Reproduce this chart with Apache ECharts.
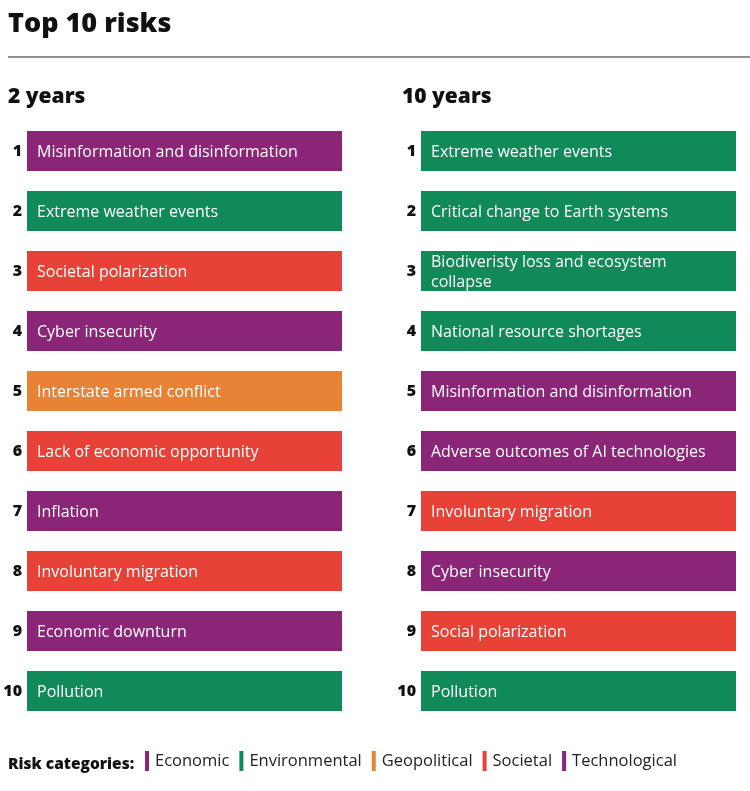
<!DOCTYPE html>
<html><head><meta charset="utf-8">
<script src="https://cdn.jsdelivr.net/npm/echarts@6/dist/echarts.min.js"></script>
<style>html,body{margin:0;padding:0;background:#fff}#c{width:750px;height:791px}</style>
</head><body><div id="c"></div>
<script>
const ranks = ['1','2','3','4','5','6','7','8','9','10'];
const risks2y = ['Misinformation and disinformation','Extreme weather events','Societal polarization','Cyber insecurity','Interstate armed conflict','Lack of economic opportunity','Inflation','Involuntary migration','Economic downturn','Pollution'];
const cats2y = ['Technological','Environmental','Societal','Technological','Geopolitical','Societal','Economic','Societal','Economic','Environmental'];
const risks10y = ['Extreme weather events','Critical change to Earth systems','Biodiveristy loss and ecosystem collapse','National resource shortages','Misinformation and disinformation','Adverse outcomes of AI technologies','Involuntary migration','Cyber insecurity','Social polarization','Pollution'];
const cats10y = ['Environmental','Environmental','Environmental','Environmental','Technological','Technological','Societal','Technological','Societal','Environmental'];
const barValue = 1; // every risk drawn with the same bar length
const categories = ['Economic','Environmental','Geopolitical','Societal','Technological'];
const catColors = {Economic:'#8B2577',Environmental:'#0F8A58',Geopolitical:'#E88236',Societal:'#E84137',Technological:'#8B2577'};

const FONT = 'Open Sans';
function makeSeries(risks, cats, gi){
  return categories.map(c => ({
    type:'bar', name:c, xAxisIndex:gi, yAxisIndex:gi,
    barWidth:40, barGap:'-100%', silent:true,
    itemStyle:{color:catColors[c]},
    label:{show:true, position:'insideLeft', distance:10, offset:[0,1], color:'#fff',
      fontFamily:FONT, fontSize:16, lineHeight:20, width:290, overflow:'break',
      formatter:p=>p.data.risk},
    data: risks.map((r,i)=> cats[i]===c ? {value:barValue, risk:r} : '-')
  }));
}
function yAx(gi){
  return {type:'category', gridIndex:gi, data:ranks, inverse:true,
    axisLine:{show:false}, axisTick:{show:false},
    axisLabel:{margin:5, color:'#111', fontFamily:FONT, fontWeight:800, fontSize:16}};
}
function xAx(gi){
  return {type:'value', gridIndex:gi, min:0, max:1, show:false, splitLine:{show:false}};
}
const chart = echarts.init(document.getElementById('c'), null, {renderer:'canvas'});
chart.setOption({
  animation:false,
  title:[
    {text:'Top 10 risks', left:3, top:6, textStyle:{fontFamily:FONT, fontWeight:800, fontSize:27, color:'#111'}},
    {text:'2 years', left:3, top:82, textStyle:{fontFamily:FONT, fontWeight:800, fontSize:21, color:'#111'}},
    {text:'10 years', left:397, top:82, textStyle:{fontFamily:FONT, fontWeight:800, fontSize:21, color:'#111'}},
    {text:'Risk categories:', left:3, top:752, textStyle:{fontFamily:FONT, fontWeight:800, fontSize:15.5, color:'#111'}}
  ],
  graphic:[{type:'line', shape:{x1:8,y1:57,x2:750,y2:57}, style:{stroke:'#222', lineWidth:1}}],
  legend:{left:145, top:751, padding:0, icon:'rect', itemWidth:4, itemHeight:20, itemGap:10, selectedMode:false,
    data:categories, textStyle:{fontFamily:FONT, fontSize:16.5, color:'#222', padding:[1,0,0,1]}},
  grid:[
    {left:27, width:315, top:121, height:600},
    {left:421, width:315, top:121, height:600}
  ],
  xAxis:[xAx(0), xAx(1)],
  yAxis:[yAx(0), yAx(1)],
  series:[...makeSeries(risks2y, cats2y, 0), ...makeSeries(risks10y, cats10y, 1)]
});
</script></body></html>
